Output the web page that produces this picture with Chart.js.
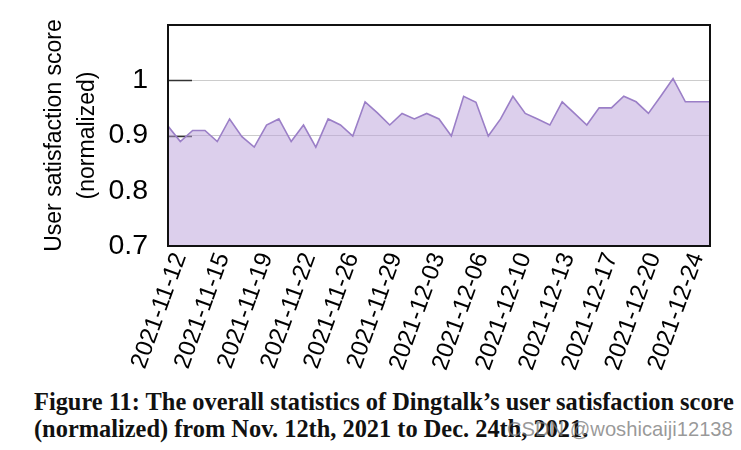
<!DOCTYPE html>
<html>
<head>
<meta charset="utf-8">
<script src="https://cdn.jsdelivr.net/npm/chart.js@4.4.0/dist/chart.umd.min.js"></script>
<style>
  body { margin: 0; background: #fff; }
  #wrap { position: relative; width: 741px; height: 450px; overflow: hidden; }
  #chartBox { position: absolute; left: 0; top: 0; width: 741px; height: 380px; }
  .caption { position: absolute; left: 34px; font-family: "Liberation Serif", "DejaVu Serif", serif; font-weight: bold; font-size: 24.4px; line-height: 1; color: #111; white-space: nowrap; }
  #mark { position: absolute; left: 507px; top: 419px; font-family: "Liberation Sans", Arial, sans-serif; font-size: 20.2px; line-height: 1; color: rgba(120,120,120,0.75); white-space: nowrap; }
</style>
</head>
<body>
<div id="wrap">
  <div id="chartBox"><canvas id="myChart"></canvas></div>
  <div class="caption" style="top:390px">Figure 11: The overall statistics of Dingtalk’s user satisfaction score</div>
  <div class="caption" style="top:417px">(normalized) from Nov. 12th, 2021 to Dec. 24th, 2021.</div>
  <div id="mark">CSDN @woshicaiji12138</div>
</div>
<script>
// one value per point
const scores = [
  0.917, 0.889, 0.909, 0.909, 0.889, 0.930, 0.898, 0.879, 0.919, 0.930,
  0.889, 0.919, 0.879, 0.930, 0.919, 0.899, 0.961, 0.941, 0.919, 0.940,
  0.930, 0.940, 0.930, 0.899, 0.971, 0.960, 0.899, 0.930, 0.971, 0.940,
  0.930, 0.919, 0.961, 0.940, 0.919, 0.950, 0.950, 0.971, 0.961, 0.940,
  0.971, 1.003, 0.961, 0.961, 0.961
];

const tickLabels = [
  '2021-11-12', '2021-11-15', '2021-11-19', '2021-11-22', '2021-11-26',
  '2021-11-29', '2021-12-03', '2021-12-06', '2021-12-10', '2021-12-13',
  '2021-12-17', '2021-12-20', '2021-12-24'
];

const yTicks = [0.7, 0.8, 0.9, 1.0];
const gridValues = [0.9, 1.0];
const tickEvery = 3.5; // points between date labels

const near = (a, b) => Math.abs(a - b) < 1e-6;

// plot frame and the short inward ticks on the left
const framePlugin = {
    id: 'frame',
    beforeDatasetsDraw(c) {
        const ctx = c.ctx, a = c.chartArea, y = c.scales.y;
        ctx.save();
        ctx.strokeStyle = '#333';
        ctx.lineWidth = 1.5;
        gridValues.forEach(v => {
            const py = Math.round(y.getPixelForValue(v)) + 0.5;
            ctx.beginPath();
            ctx.moveTo(a.left, py);
            ctx.lineTo(a.left + 24, py);
            ctx.stroke();
        });
        ctx.restore();
    },
    afterDatasetsDraw(c) {
        const ctx = c.ctx, a = c.chartArea;
        ctx.save();
        ctx.strokeStyle = '#111';
        ctx.lineWidth = 2;
        ctx.strokeRect(a.left, a.top, a.right - a.left, a.bottom - a.top);
        ctx.restore();
    }
};

const ctx = document.getElementById('myChart').getContext('2d');
const chart = new Chart(ctx, {
    type: 'line',
    data: {
        datasets: [{
            data: scores.map((v, i) => ({ x: i, y: v })),
            borderColor: '#9b7fc7',
            borderWidth: 1.6,
            backgroundColor: 'rgba(186, 160, 218, 0.5)',
            fill: 'start',
            pointRadius: 0,
            tension: 0
        }]
    },
    options: {
        responsive: true,
        maintainAspectRatio: false,
        animation: false,
        layout: { padding: { top: 25, right: 31, left: 0, bottom: 0 } },
        plugins: {
            legend: { display: false },
            tooltip: { enabled: false }
        },
        scales: {
            x: {
                type: 'linear',
                min: 0,
                max: scores.length - 1,
                afterBuildTicks: s => {
                    s.ticks = tickLabels.map((t, i) => ({ value: i * tickEvery }));
                },
                afterFit: s => { s.height = 380 - 246; },
                grid: { display: false, drawTicks: false },
                border: { display: false },
                ticks: {
                    autoSkip: false,
                    maxRotation: 70,
                    minRotation: 70,
                    padding: 3,
                    labelOffset: 12,
                    color: '#000',
                    font: { family: '"Liberation Sans", Arial, sans-serif', size: 24 },
                    callback: (v, i) => tickLabels[i]
                }
            },
            y: {
                min: 0.7,
                max: 1.1,
                afterBuildTicks: s => {
                    s.ticks = yTicks.map(v => ({ value: v }));
                },
                afterFit: s => {
                    s.width = 168;
                    s.paddingTop = 0;
                    s.paddingBottom = 0;
                },
                border: { display: false },
                grid: {
                    drawTicks: false,
                    lineWidth: 1,
                    color: c => gridValues.some(g => near(g, c.tick.value)) ? '#cccccc' : 'rgba(0,0,0,0)'
                },
                ticks: {
                    padding: 20,
                    color: '#000',
                    font: { family: '"Liberation Sans", Arial, sans-serif', size: 28.5 },
                    callback: v => near(v, 1) ? '1' : v.toFixed(1)
                },
                title: {
                    display: true,
                    text: ['User satisfaction score', '(normalized)'],
                    color: '#000',
                    padding: { top: 39, bottom: 0 },
                    font: { family: '"Liberation Sans", Arial, sans-serif', size: 23, lineHeight: 1.4 }
                }
            }
        }
    },
    plugins: [framePlugin]
});
</script>
</body>
</html>
